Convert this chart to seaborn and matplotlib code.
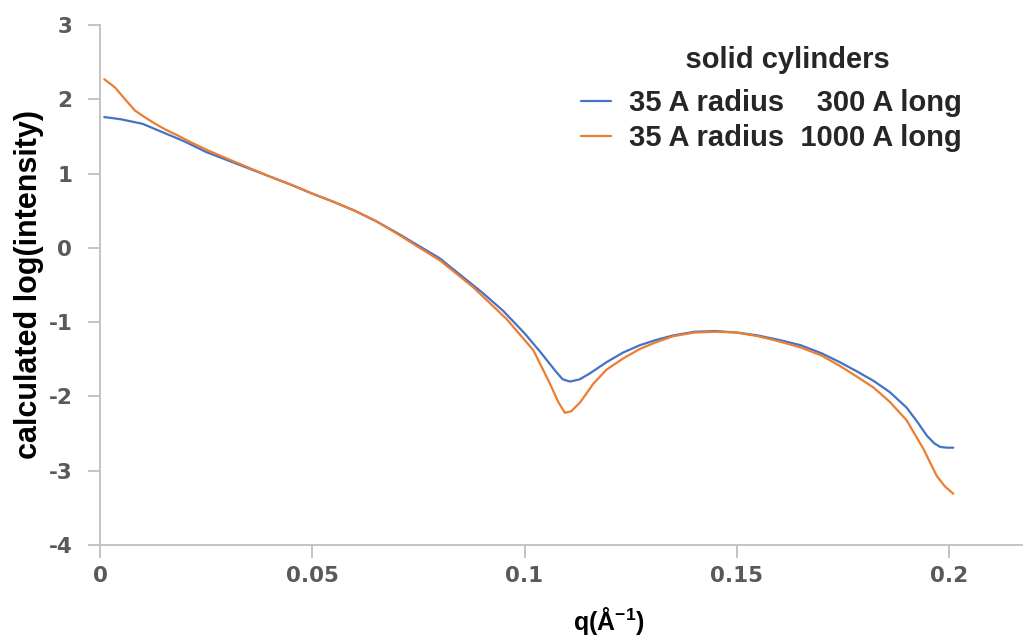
import matplotlib
matplotlib.use("Agg")
import matplotlib.pyplot as plt
import seaborn as sns
import pandas as pd

# ---- data ----
q_short = [0.001, 0.0025, 0.005, 0.0075, 0.01, 0.0125, 0.015, 0.02, 0.025, 0.03,
           0.035, 0.04, 0.045, 0.05, 0.055, 0.06, 0.065, 0.07, 0.075, 0.08,
           0.085, 0.09, 0.095, 0.1, 0.1037, 0.1076, 0.109, 0.1107, 0.113, 0.1154, 0.1193,
           0.1232, 0.1272, 0.131, 0.135, 0.14, 0.145, 0.15, 0.155, 0.16,
           0.165, 0.17, 0.1743, 0.1782, 0.1822, 0.186, 0.190, 0.1925, 0.1948, 0.1965,
           0.1979, 0.1995, 0.201]
logI_short = [1.76, 1.75, 1.73, 1.70, 1.67, 1.61, 1.55, 1.43, 1.29, 1.18,
              1.07, 0.96, 0.85, 0.73, 0.62, 0.50, 0.36, 0.20, 0.03, -0.14,
              -0.37, -0.60, -0.85, -1.15, -1.40, -1.68, -1.77, -1.80, -1.77, -1.69, -1.54,
              -1.41, -1.31, -1.24, -1.18, -1.13, -1.12, -1.14, -1.18, -1.24,
              -1.31, -1.42, -1.54, -1.66, -1.79, -1.94, -2.15, -2.34, -2.53, -2.63,
              -2.68, -2.69, -2.69]

q_long = [0.001, 0.0035, 0.0059, 0.0082, 0.0105, 0.013, 0.0155, 0.0184, 0.0218, 0.0255,
          0.03, 0.035, 0.04, 0.045, 0.05, 0.055, 0.06, 0.065, 0.07, 0.075, 0.0801,
          0.0879, 0.0958, 0.1021, 0.106, 0.108, 0.1095, 0.111, 0.1131, 0.1162, 0.1193,
          0.1232, 0.1272, 0.131, 0.135, 0.14, 0.145, 0.15, 0.155,
          0.16, 0.165, 0.17, 0.1743, 0.1782, 0.1822, 0.186, 0.190, 0.194, 0.1971,
          0.199, 0.201]
logI_long = [2.27, 2.16, 2.00, 1.85, 1.76, 1.67, 1.59, 1.51, 1.41, 1.31,
             1.20, 1.08, 0.96, 0.85, 0.73, 0.62, 0.50, 0.36, 0.19, 0.01, -0.17,
             -0.53, -0.96, -1.38, -1.83, -2.08, -2.22, -2.20, -2.08, -1.83, -1.64,
             -1.49, -1.36, -1.27, -1.19, -1.14, -1.13, -1.14, -1.19,
             -1.26, -1.34, -1.45, -1.59, -1.73, -1.88, -2.07, -2.32, -2.71, -3.07,
             -3.21, -3.31]

series_labels = ["35 A radius    300 A long", "35 A radius  1000 A long"]
series_colors = ["#4472C4", "#ED7D31"]
legend_title = "solid cylinders"
x_ticks = [0, 0.05, 0.1, 0.15, 0.2]
x_ticklabels = ["0", "0.05", "0.1", "0.15", "0.2"]
y_ticks = [3, 2, 1, 0, -1, -2, -3, -4]

df = pd.concat([
    pd.DataFrame({"q": q_short, "logI": logI_short, "series": series_labels[0]}),
    pd.DataFrame({"q": q_long, "logI": logI_long, "series": series_labels[1]}),
], ignore_index=True)

sns.set_theme(style="white")
plt.rcParams["font.family"] = ["Liberation Sans", "DejaVu Sans"]
plt.rcParams["mathtext.fontset"] = "custom"
plt.rcParams["mathtext.rm"] = "Liberation Sans"
plt.rcParams["mathtext.bf"] = "Liberation Sans:bold"
plt.rcParams["axes.unicode_minus"] = False

fig = plt.figure(figsize=(10.25, 6.41), dpi=100)
ax = fig.add_axes([0.0976, 0.1498, 0.8995, 0.8112])

sns.lineplot(data=df, x="q", y="logI", hue="series", palette=series_colors,
             sort=False, estimator=None, linewidth=1.6, ax=ax)
for ln in ax.get_lines():
    ln.set_solid_joinstyle("round")

ax.set_xlim(0, 0.2172)
ax.set_ylim(-4, 3)
ax.set_xticks(x_ticks)
ax.set_xticklabels(x_ticklabels)
ax.set_yticks(y_ticks)

grey = "#BFBFBF"
for s in ["top", "right"]:
    ax.spines[s].set_visible(False)
for s in ["left", "bottom"]:
    ax.spines[s].set_color(grey)
    ax.spines[s].set_linewidth(1.3)

ax.tick_params(axis="both", direction="out", length=9, width=1.3, color=grey,
               labelcolor="#595959", labelsize=15.5, bottom=True, left=True)
ax.tick_params(axis="y", pad=11)
ax.tick_params(axis="x", pad=6)
for lab in ax.get_xticklabels() + ax.get_yticklabels():
    lab.set_family(["DejaVu Sans"])
    lab.set_fontweight("bold")

ax.set_ylabel("calculated log(intensity)", fontsize=22, fontweight="bold",
              color="black", labelpad=3)
ax.set_xlabel(r"q(Å$^{\mathbf{-1}}$)", fontsize=18, fontweight="bold",
              color="black")
ax.xaxis.set_label_coords(0.552, -0.1154)

handles, labels = ax.get_legend_handles_labels()
leg = ax.legend(handles, labels, title="    " + legend_title, loc="upper left",
                bbox_to_anchor=(0.5054, 0.9885), frameon=False, borderpad=0,
                prop={"size": 21, "weight": "bold"},
                title_fontproperties={"size": 21, "weight": "bold"},
                handlelength=1.03, handletextpad=0.62, labelspacing=0.25)
leg._legend_box.sep = 11
for line in leg.get_lines():
    line.set_linewidth(1.6)

fig.savefig("out.png", dpi=100, facecolor="white")
